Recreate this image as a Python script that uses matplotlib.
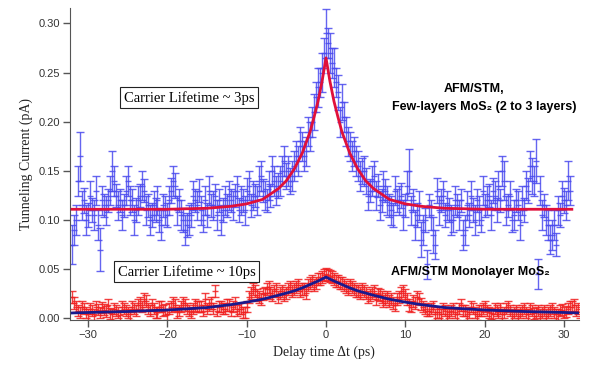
import numpy as np
import matplotlib
matplotlib.use('Agg')
import matplotlib.pyplot as plt

# few-layer MoS2 (blue points), dt step 0.5 ps starting at -32 ps
few_layer = [0.075, 0.10, 0.165, 0.12, 0.105, 0.11, 0.13, 0.07, 0.115, 0.12,
             0.15, 0.125, 0.12, 0.115, 0.14, 0.12, 0.11, 0.125, 0.13, 0.115,
             0.105, 0.11, 0.10, 0.115, 0.105, 0.13, 0.135, 0.12, 0.10, 0.095,
             0.105, 0.12, 0.13, 0.10, 0.105, 0.115, 0.125, 0.12, 0.11, 0.115,
             0.12, 0.125, 0.11, 0.12, 0.13, 0.115, 0.125, 0.14, 0.13, 0.12,
             0.125, 0.14, 0.135, 0.15, 0.145, 0.14, 0.155, 0.16, 0.175, 0.17,
             0.185, 0.21, 0.235, 0.25, 0.29, 0.27, 0.255, 0.23, 0.22, 0.19,
             0.175, 0.17, 0.155, 0.15, 0.14, 0.13, 0.145, 0.135, 0.12, 0.13,
             0.115, 0.105, 0.12, 0.125, 0.115, 0.15, 0.12, 0.105, 0.08, 0.10,
             0.115, 0.085, 0.13, 0.12, 0.105, 0.11, 0.10, 0.115, 0.12, 0.09,
             0.105, 0.11, 0.12, 0.10, 0.115, 0.125, 0.13, 0.11, 0.12, 0.14,
             0.115, 0.10, 0.12, 0.095, 0.11, 0.13, 0.145, 0.16, 0.13, 0.115,
             0.095, 0.085, 0.075, 0.105, 0.12, 0.14]
few_layer_err = [0.02, 0.015, 0.025, 0.013, 0.012, 0.012, 0.015, 0.022, 0.012, 0.012,
                 0.02, 0.012, 0.012, 0.012, 0.015, 0.012, 0.012, 0.012, 0.012, 0.012,
                 0.012, 0.012, 0.012, 0.012, 0.012, 0.013, 0.013, 0.012, 0.012, 0.012,
                 0.012, 0.012, 0.012, 0.012, 0.012, 0.012, 0.012, 0.012, 0.012, 0.012,
                 0.012, 0.012, 0.012, 0.012, 0.013, 0.012, 0.012, 0.015, 0.012, 0.012,
                 0.012, 0.015, 0.013, 0.015, 0.013, 0.013, 0.015, 0.015, 0.015, 0.015,
                 0.015, 0.018, 0.02, 0.02, 0.025, 0.02, 0.02, 0.018, 0.018, 0.015,
                 0.015, 0.015, 0.015, 0.013, 0.013, 0.012, 0.015, 0.012, 0.012, 0.012,
                 0.012, 0.012, 0.012, 0.013, 0.012, 0.022, 0.012, 0.012, 0.018, 0.012,
                 0.012, 0.018, 0.013, 0.012, 0.012, 0.012, 0.012, 0.012, 0.012, 0.015,
                 0.012, 0.012, 0.012, 0.012, 0.012, 0.012, 0.013, 0.012, 0.012, 0.02,
                 0.012, 0.012, 0.012, 0.015, 0.012, 0.013, 0.018, 0.022, 0.015, 0.012,
                 0.015, 0.015, 0.012, 0.012, 0.013, 0.02]
# interleaved points, starting at -31.75 ps
few_layer_b = [0.09, 0.14, 0.115, 0.10, 0.125, 0.105, 0.095, 0.12,
               0.11, 0.13, 0.14, 0.115, 0.105, 0.13, 0.12, 0.10,
               0.12, 0.135, 0.11, 0.10, 0.115, 0.12, 0.095, 0.11,
               0.12, 0.14, 0.11, 0.105, 0.09, 0.10, 0.125, 0.115,
               0.11, 0.12, 0.13, 0.115, 0.105, 0.10, 0.12, 0.125,
               0.115, 0.13, 0.12, 0.11, 0.135, 0.125, 0.12, 0.145,
               0.125, 0.135, 0.15, 0.13, 0.14, 0.16, 0.15, 0.145,
               0.165, 0.18, 0.165, 0.19, 0.20, 0.225, 0.24, 0.27,
               0.28, 0.26, 0.24, 0.20, 0.205, 0.18, 0.165, 0.16,
               0.145, 0.15, 0.125, 0.14, 0.125, 0.115, 0.135, 0.12,
               0.11, 0.13, 0.12, 0.105, 0.135, 0.11, 0.095, 0.115,
               0.09, 0.055, 0.105, 0.075, 0.11, 0.125, 0.115, 0.10,
               0.12, 0.105, 0.085, 0.115, 0.125, 0.10, 0.11, 0.13,
               0.12, 0.105, 0.125, 0.135, 0.15, 0.11, 0.125, 0.105,
               0.115, 0.12, 0.135, 0.155, 0.14, 0.045, 0.105, 0.10,
               0.08, 0.095, 0.11, 0.125, 0.115, 0.13]
few_layer_b_err = 0.015

# monolayer MoS2 (red points), dt step 0.5 ps starting at -32 ps
mono = [0.022, 0.012, 0.006, 0.010, 0.004, 0.008, 0.012, 0.006, 0.009, 0.014,
        0.004, 0.008, 0.003, 0.010, 0.006, 0.012, 0.008, 0.016, 0.020, 0.010,
        0.014, 0.006, 0.012, 0.008, 0.004, 0.012, 0.014, 0.008, 0.016, 0.010,
        0.006, 0.014, 0.012, 0.008, 0.010, 0.016, 0.028, 0.012, 0.010, 0.014,
        0.008, 0.016, 0.010, 0.006, 0.012, 0.026, 0.028, 0.022, 0.025, 0.030,
        0.026, 0.028, 0.022, 0.028, 0.026, 0.032, 0.030, 0.034, 0.030, 0.026,
        0.036, 0.034, 0.040, 0.042, 0.045, 0.043, 0.040, 0.038, 0.036, 0.032,
        0.034, 0.030, 0.028, 0.030, 0.026, 0.024, 0.028, 0.025, 0.022, 0.020,
        0.018, 0.016, 0.020, 0.026, 0.024, 0.014, 0.018, 0.022, 0.015, 0.010,
        0.008, 0.012, 0.006, 0.004, 0.008, 0.006, 0.010, 0.004, 0.014, 0.008,
        0.006, 0.010, 0.004, 0.008, 0.012, 0.006, 0.004, 0.008, 0.010, 0.006,
        0.012, 0.004, 0.008, 0.006, 0.010, 0.004, 0.008, 0.006, 0.004, 0.008,
        0.006, 0.010, 0.004, 0.008, 0.006, 0.010, 0.012, 0.008, 0.006]
# interleaved points, starting at -31.75 ps
mono_b = [0.016, 0.008, 0.012, 0.006, 0.010, 0.004, 0.009, 0.011,
          0.007, 0.005, 0.010, 0.006, 0.012, 0.008, 0.004, 0.010,
          0.014, 0.012, 0.018, 0.008, 0.010, 0.006, 0.012, 0.009,
          0.010, 0.016, 0.006, 0.012, 0.014, 0.008, 0.010, 0.012,
          0.012, 0.020, 0.014, 0.010, 0.008, 0.012, 0.010, 0.014,
          0.012, 0.008, 0.010, 0.006, 0.022, 0.030, 0.024, 0.020,
          0.026, 0.032, 0.024, 0.030, 0.026, 0.024, 0.030, 0.028,
          0.032, 0.028, 0.030, 0.034, 0.038, 0.036, 0.040, 0.044,
          0.044, 0.042, 0.038, 0.036, 0.034, 0.030, 0.032, 0.028,
          0.026, 0.028, 0.022, 0.026, 0.020, 0.024, 0.018, 0.022,
          0.020, 0.014, 0.022, 0.028, 0.020, 0.012, 0.016, 0.020,
          0.012, 0.008, 0.010, 0.004, 0.006, 0.010, 0.004, 0.008,
          0.006, 0.010, 0.008, 0.004, 0.012, 0.006, 0.008, 0.010,
          0.008, 0.005, 0.010, 0.006, 0.004, 0.010, 0.008, 0.006,
          0.004, 0.008, 0.006, 0.010, 0.005, 0.008, 0.006, 0.004,
          0.008, 0.006, 0.004, 0.009, 0.007, 0.012, 0.014, 0.010]
mono_err = 0.006

# fitted curves
fit3_t = [-32, -20, -15, -12, -10, -8, -6, -5, -4, -3, -2, -1.5, -1, -0.5, 0,
          0.5, 1, 1.5, 2, 3, 4, 5, 6, 8, 10, 12, 15, 20, 31]
fit3_y = [0.111, 0.111, 0.112, 0.114, 0.1165, 0.121, 0.132, 0.140, 0.152, 0.168, 0.190,
          0.205, 0.221, 0.241, 0.265, 0.241, 0.221, 0.205, 0.190, 0.168, 0.152,
          0.140, 0.132, 0.121, 0.1165, 0.114, 0.112, 0.111, 0.111]
fit10_t = [-32, -30, -25, -20, -15, -12, -10, -8, -6, -4, -3, -2, -1, 0,
           1, 2, 3, 4, 6, 8, 10, 12, 15, 20, 25, 30, 32]
fit10_y = [0.0055, 0.006, 0.007, 0.0085, 0.011, 0.014, 0.0165, 0.0195, 0.0235, 0.028,
           0.031, 0.0345, 0.038, 0.042, 0.038, 0.0345, 0.031, 0.028, 0.0235, 0.0195,
           0.0165, 0.014, 0.011, 0.0085, 0.007, 0.006, 0.0055]

t_few = -32 + 0.5 * np.arange(len(few_layer))
t_few_b = -31.75 + 0.5 * np.arange(len(few_layer_b))
t_mono = -32 + 0.5 * np.arange(len(mono))
t_mono_b = -31.75 + 0.5 * np.arange(len(mono_b))

fig = plt.figure(figsize=(5.92, 3.70), dpi=100)
ax = fig.add_axes([0.118, 0.135, 0.860, 0.843])

blue = '#4a4aee'
red = '#f02020'
eb = dict(fmt='_', ms=5, elinewidth=1.0, capsize=3, capthick=1.0, alpha=0.85, zorder=2)
ax.errorbar(t_few, few_layer, yerr=few_layer_err, color=blue, **eb)
ax.errorbar(t_few_b, few_layer_b, yerr=few_layer_b_err, color=blue, **eb)
ax.plot(fit3_t, fit3_y, color='#e0103a', lw=2, zorder=3)

ax.errorbar(t_mono, mono, yerr=mono_err, color=red, **eb)
ax.errorbar(t_mono_b, mono_b, yerr=mono_err, color=red, **eb)
ax.plot(fit10_t, fit10_y, color='#1a1a8c', lw=2, zorder=3)

ax.set_xlim(-32.3, 31.9)
ax.set_ylim(-0.0017, 0.3156)
ax.set_xticks([-30, -20, -10, 0, 10, 20, 30])
ax.set_yticks([0.0, 0.05, 0.10, 0.15, 0.20, 0.25, 0.30])
ax.yaxis.set_major_formatter(matplotlib.ticker.FormatStrFormatter('%.2f'))
for s in ['top', 'right']:
    ax.spines[s].set_visible(False)
for s in ['left', 'bottom']:
    ax.spines[s].set_color('#555555')
ax.tick_params(direction='out', length=5, width=1, color='#555555',
               labelsize=8, labelcolor='#333333', pad=2)
for lab in ax.get_xticklabels() + ax.get_yticklabels():
    lab.set_family('Liberation Sans')

ax.set_xlabel('Delay time \u0394t (ps)', family='Liberation Serif', fontsize=10, color='#222222')
ax.set_ylabel('Tunneling Current (pA)', family='Liberation Serif', fontsize=10, color='#222222')

box = dict(boxstyle='square,pad=0.25', fc='white', ec='#222222', lw=0.8)
ax.text(-17.3, 0.2245, 'Carrier Lifetime ~ 3ps', family='Liberation Serif', fontsize=10.5,
        ha='center', va='center', bbox=box, zorder=5)
ax.text(-17.6, 0.0475, 'Carrier Lifetime ~ 10ps', family='Liberation Serif', fontsize=10.5,
        ha='center', va='center', bbox=box, zorder=5)

sans_b = ['Liberation Sans', 'DejaVu Sans']
ax.text(18.6, 0.233, 'AFM/STM,', family=sans_b, weight='bold', fontsize=9,
        ha='center', va='center', zorder=5)
ax.text(19.9, 0.215, 'Few-layers MoS\u2082 (2 to 3 layers)', family=sans_b, weight='bold',
        fontsize=9, ha='center', va='center', zorder=5)
ax.text(18.2, 0.0475, 'AFM/STM Monolayer MoS\u2082', family=sans_b, weight='bold',
        fontsize=9, ha='center', va='center', zorder=5)

fig.savefig('out.png', dpi=100)
